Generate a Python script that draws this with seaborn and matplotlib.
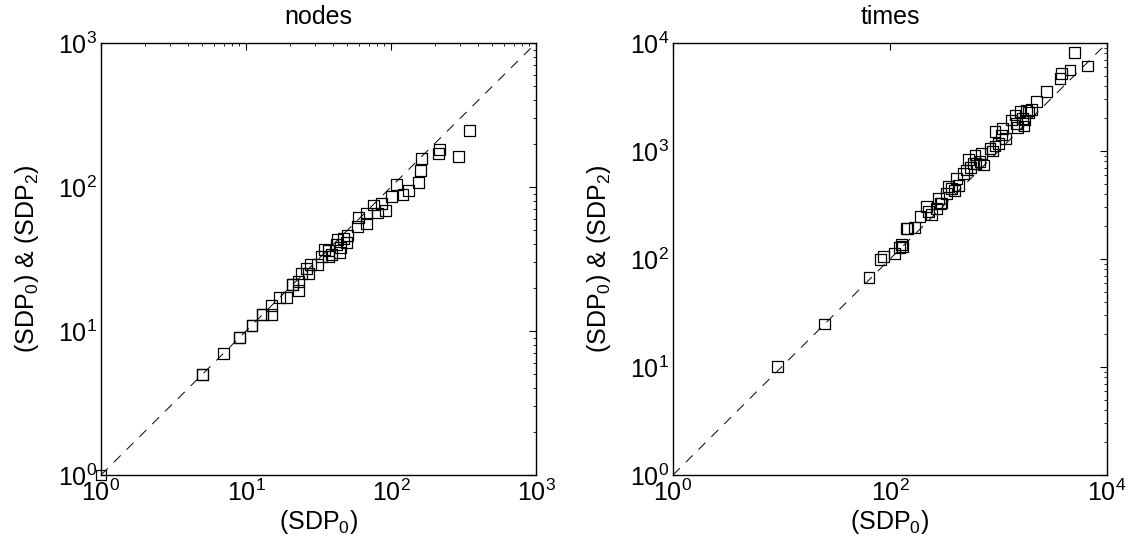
import seaborn as sns
import matplotlib
matplotlib.use("Agg")
import matplotlib.pyplot as plt
from matplotlib.ticker import NullLocator, LogLocator
import pandas as pd

# nodes panel: SDP0 on x, SDP2 on y
nodes_sdp0 = [1, 5, 5, 7, 9, 9, 11, 11, 13, 13, 15, 15, 17, 19, 21, 21, 23, 23, 24, 26, 27,
              28, 31, 33, 35, 37, 37, 39, 42, 43, 44, 45, 47, 49, 50, 59, 60, 68, 68, 76,
              81, 86, 91, 101, 109, 121, 133, 155, 160, 163, 212, 215, 291, 347]
nodes_sdp2 = [1, 5, 5, 7, 9, 9, 11, 11, 13, 13, 13, 15, 17, 17, 21, 21, 22, 19, 25, 27, 25,
              29, 29, 33, 37, 36, 33, 34, 40, 43, 35, 38, 44, 41, 46, 53, 61, 56, 65, 75,
              66, 77, 69, 86, 104, 89, 94, 107, 131, 158, 170, 182, 162, 245]
nodes_lim = [1, 1000]
nodes_ticks = [1, 10, 100, 1000]

# times panel
times_sdp0 = [9.2, 25, 64, 81, 87, 109, 123, 128, 131, 143, 146, 167, 189, 218, 225, 240, 269,
              279, 293, 300, 333, 344, 370, 390, 412, 427, 474, 509, 527, 550, 587, 607, 620,
              675, 699, 725, 835, 880, 929, 929, 996, 1070, 1093, 1150, 1324, 1420, 1471, 1500,
              1578, 1650, 1718, 1755, 1820, 1900, 2000, 2249, 2780, 3690, 3822, 4560, 5000, 6580]
times_sdp2 = [10.1, 25, 68, 99, 105, 113, 127, 135, 131, 192, 192, 196, 246, 305, 274, 260, 294,
              365, 328, 330, 406, 468, 452, 430, 558, 484, 622, 667, 826, 700, 770, 918, 760,
              796, 953, 742, 1059, 1000, 1112, 1510, 1178, 1406, 1622, 1300, 1937, 2154, 1804, 1650,
              2312, 2000, 1703, 1937, 2362, 2250, 2400, 2864, 3540, 4710, 5240, 5620, 8130, 6120]
times_lim = [1, 10000]
times_xticks = [1, 100, 10000]
times_yticks = [1, 10, 100, 1000, 10000]

sns.set_theme(style="white")
plt.rcParams["font.family"] = ["Liberation Sans", "DejaVu Sans"]
plt.rcParams["mathtext.default"] = "regular"
plt.rcParams["lines.scale_dashes"] = False
plt.rcParams["xtick.direction"] = "in"
plt.rcParams["ytick.direction"] = "in"
plt.rcParams["xtick.top"] = True
plt.rcParams["ytick.right"] = True
plt.rcParams["text.color"] = "black"
plt.rcParams["axes.labelcolor"] = "black"

fig = plt.figure(figsize=(11.32, 5.52), dpi=100)
ax1 = fig.add_axes([101 / 1132, 77 / 552, 435 / 1132, 432 / 552])
ax2 = fig.add_axes([673 / 1132, 77 / 552, 434 / 1132, 432 / 552])

fs = 18
panels = [
    (ax1, nodes_sdp0, nodes_sdp2, nodes_lim, nodes_ticks, nodes_ticks, "nodes", True),
    (ax2, times_sdp0, times_sdp2, times_lim, times_xticks, times_yticks, "times", False),
]
for ax, xs, ys, lim, xt, yt, title, xminor in panels:
    df = pd.DataFrame({"sdp0": xs, "sdp2": ys})
    sns.lineplot(x=lim, y=lim, ax=ax, color="black", linewidth=0.7,
                 linestyle=(0, (7, 6)))
    sns.scatterplot(data=df, x="sdp0", y="sdp2", ax=ax, marker="s", s=62,
                    facecolor="none", edgecolor="black", linewidth=0.9,
                    clip_on=False, zorder=3)
    ax.set_xscale("log")
    ax.set_yscale("log")
    ax.set_xlim(lim)
    ax.set_ylim(lim)
    ax.set_xticks(xt)
    ax.set_yticks(yt)
    ax.yaxis.set_minor_locator(LogLocator(base=10, subs=range(2, 10)))
    if xminor:
        ax.xaxis.set_minor_locator(LogLocator(base=10, subs=range(2, 10)))
    else:
        ax.xaxis.set_minor_locator(NullLocator())
    ax.tick_params(which="major", length=5, width=0.8, color="black",
                   labelsize=fs, pad=3, labelcolor="black")
    ax.tick_params(which="minor", length=2.5, width=0.6, color="black")
    for sp in ax.spines.values():
        sp.set_color("black")
        sp.set_linewidth(1.0)
    ax.set_title(title, fontsize=fs, pad=14, color="black")
    ax.set_xlabel("(SDP$_0$)", fontsize=fs, labelpad=2)
    ax.set_ylabel("(SDP$_0$) & (SDP$_2$)", fontsize=fs, labelpad=12)

fig.savefig("out.png", dpi=100)
